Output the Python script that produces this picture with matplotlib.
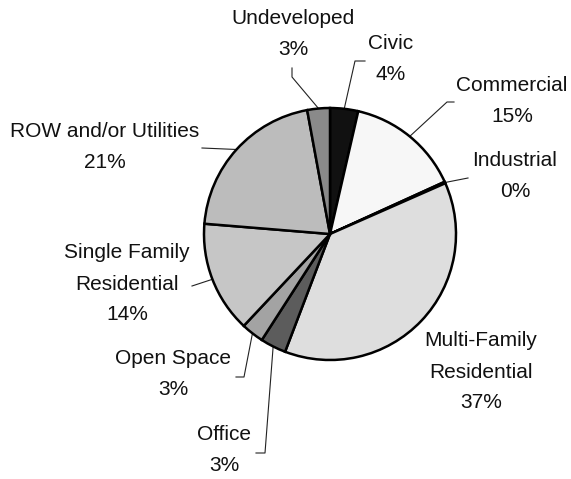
''' Land use pie chart with leader-line labels '''

import numpy as np
import matplotlib
matplotlib.use("Agg")
import matplotlib.pyplot as plt

# data (clockwise from 12 o'clock)
categories = ["Civic", "Commercial", "Industrial", "Multi-Family\nResidential",
              "Office", "Open Space", "Single Family\nResidential",
              "ROW and/or Utilities", "Undeveloped"]
shares = [3.6, 14.6, 0.2, 37.4, 3.3, 2.9, 14.3, 20.8, 2.9]
shades = ["#111111", "#f7f7f7", "#e4e4e4", "#dedede", "#5c5c5c",
          "#a3a3a3", "#c6c6c6", "#bcbcbc", "#8a8a8a"]

# layout in pixels (y measured from the top)
W, H = 571, 479
cx, cy, rad = 330, 234, 126
label_xy = [(391, 59), (512, 101), (515, 176), (481, 372), (224, 450),
            (173, 374), (127, 284), (105, 147), (293, 34)]
# leader line bends: list of points after the wedge anchor (None = no line)
leaders = [[(355, 61), (365, 61)],
           [(447, 102), (454, 102)],
           [(468, 178)],
           None,
           [(265, 453), (256, 453)],
           [(244, 377), (236, 377)],
           [(192, 286)],
           [(202, 148)],
           [(292, 77), (292, 68)]]

def Y(y):
    return H - y

plt.rcParams['font.family'] = ['Liberation Sans', 'DejaVu Sans']
fig = plt.figure(figsize=(W / 100, H / 100), dpi=100)
ax = fig.add_axes([0, 0, 1, 1])

wedges, _ = ax.pie(shares, colors=shades, startangle=90, counterclock=False,
                   center=(cx, Y(cy)), radius=rad,
                   wedgeprops=dict(edgecolor="black", linewidth=1.8))
ax.set_xlim(0, W)
ax.set_ylim(0, H)
ax.set_aspect("equal")
ax.axis("off")

for w, name, val, (lx, ly), pts in zip(wedges, categories, shares, label_xy, leaders):
    ax.text(lx, Y(ly), f"{name}\n{round(val):d}%", ha="center", va="center",
            fontsize=15, linespacing=1.8, color="#111111")
    if pts is None:
        continue
    mid = np.deg2rad((w.theta1 + w.theta2) / 2)
    xs = [cx + rad * np.cos(mid)] + [p[0] for p in pts]
    ys = [Y(cy) + rad * np.sin(mid)] + [Y(p[1]) for p in pts]
    ax.plot(xs, ys, color="#222222", linewidth=0.8, zorder=0)

fig.savefig("out.png", dpi=100)
